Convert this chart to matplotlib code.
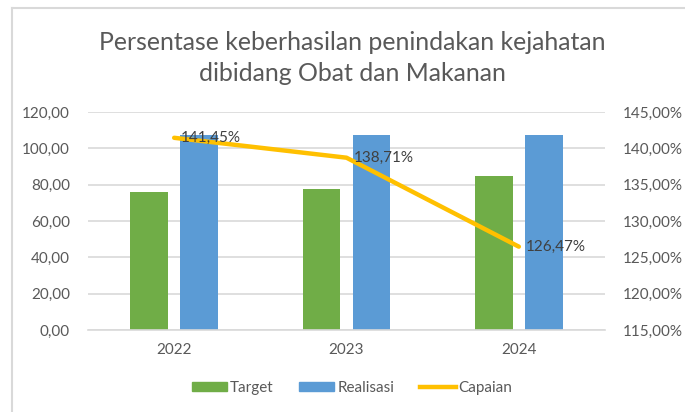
import numpy as np
import matplotlib.pyplot as plt
from matplotlib.lines import Line2D
from matplotlib.patches import Patch

years = ["2022", "2023", "2024"]
target = [76.0, 77.5, 85.0]
realisasi = [107.5, 107.5, 107.5]
capaian = [141.45, 138.71, 126.47]

GREEN = "#70AD47"
BLUE = "#5B9BD5"
GOLD = "#FFC000"
TXT = "#595959"
GRID = "#D9D9D9"

plt.rcParams["font.family"] = ["Lato", "DejaVu Sans"]

fig = plt.figure(figsize=(6.85, 4.12), dpi=100)
ax = fig.add_axes([88 / 685, 1 - 330 / 412, 517 / 685, 218 / 412])
ax2 = ax.twinx()

x = np.arange(len(years))
w = 0.22
ax.bar(x - 0.145, target, w, color=GREEN, zorder=2)
ax.bar(x + 0.145, realisasi, w, color=BLUE, zorder=2)

ax.set_xlim(-0.5, 2.5)
ax.set_ylim(0, 120)
ax.set_yticks(np.arange(0, 121, 20))
ax.set_yticklabels([f"{v:.2f}".replace(".", ",") for v in np.arange(0, 121, 20)])
ax.set_xticks(x)
ax.set_xticklabels(years)
ax.yaxis.grid(True, color=GRID, linewidth=1.2, zorder=0)
ax.set_axisbelow(True)

ax2.plot(x, capaian, color=GOLD, linewidth=3.2, solid_capstyle="round", zorder=3)
ax2.set_ylim(115, 145)
ax2.set_yticks(np.arange(115, 146, 5))
ax2.set_yticklabels([f"{v:.2f}%".replace(".", ",") for v in np.arange(115, 146, 5)])
for xi, v in zip(x, capaian):
    ax2.annotate(f"{v:.2f}%".replace(".", ","), (xi, v), xytext=(5, 0),
                 textcoords="offset points", ha="left", va="center",
                 fontsize=11, color="#404040")

for a in (ax, ax2):
    for s in a.spines.values():
        s.set_visible(False)
    a.tick_params(length=0, labelsize=11, labelcolor=TXT)
ax.tick_params(axis="y", pad=13)
ax2.tick_params(axis="y", pad=13)
ax.tick_params(axis="x", pad=9)
ax.spines["bottom"].set_visible(True)
ax.spines["bottom"].set_color(GRID)
ax.spines["bottom"].set_linewidth(1.2)

fig.text(352 / 685, 1 - 58 / 412, "Persentase keberhasilan penindakan kejahatan\ndibidang Obat dan Makanan",
         ha="center", va="center", fontsize=17.9, color=TXT, linespacing=1.4)

handles = [Patch(color=GREEN), Patch(color=BLUE), Line2D([], [], color=GOLD, linewidth=3.2)]
fig.legend(handles, ["Target", "Realisasi", "Capaian"], loc="center",
           bbox_to_anchor=(352 / 685, 1 - 388 / 412), ncol=3, frameon=False,
           fontsize=11, labelcolor=TXT, handlelength=2.3, handleheight=0.6,
           columnspacing=1.7, handletextpad=0.2)

# outer frame of the chart area
fig.add_artist(Line2D([12 / 685, 12 / 685], [0, 1 - 8 / 412], color=GRID, linewidth=1.5))
fig.add_artist(Line2D([12 / 685, 1], [1 - 8 / 412, 1 - 8 / 412], color=GRID, linewidth=1.5))

fig.savefig("out.png", dpi=100)
